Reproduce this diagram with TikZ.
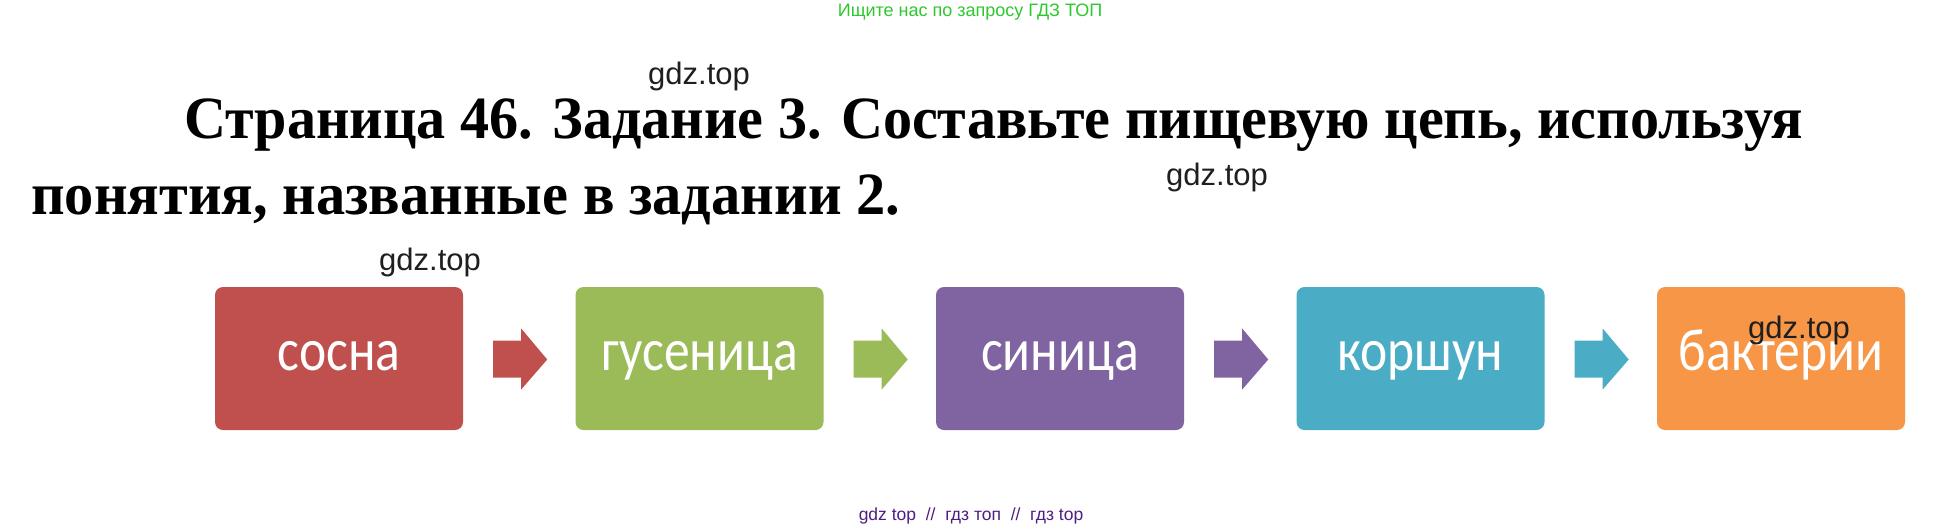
\documentclass[tikz,border=0pt]{standalone}
\usepackage{fontspec}
\setmainfont{Liberation Serif}
\newfontfamily\wmfont{Liberation Sans}
\newfontfamily\boxfont{Carlito}
\usetikzlibrary{calc}
\definecolor{cred}{HTML}{C0504D}
\definecolor{cgreen}{HTML}{9BBB59}
\definecolor{cpurple}{HTML}{8064A2}
\definecolor{cteal}{HTML}{4BACC6}
\definecolor{corange}{HTML}{F79646}
\definecolor{topgreen}{RGB}{45,200,45}
\definecolor{botpurple}{RGB}{80,30,130}
\tikzset{
  wm/.style={font=\wmfont\fontsize{31}{31}\selectfont, text=black!88, inner sep=0pt, anchor=base west},
  titleline/.style={font=\bfseries\fontsize{60}{60}\selectfont, inner sep=0pt, anchor=base west},
  chainbox/.style={fill=#1, rounded corners=8pt, minimum width=248pt, minimum height=143pt,
    inner sep=0pt, text=white, text height=23pt, text depth=0pt,
    font=\boxfont\fontsize{60}{60}\selectfont},
  blockarrow/.style={fill=#1, draw=none}
}
\newcommand{\sq}[1]{\scalebox{0.86}[1]{#1}}
\newcommand{\chainarrow}[3]{% from node, to node, colour
  \fill[blockarrow=#3]
    ($(#1.east)+(30,18)$) -- ($(#1.east)+(58,18)$) -- ($(#1.east)+(58,30)$) --
    ($(#1.east)+(84,-1)$) -- ($(#1.east)+(58,-31)$) -- ($(#1.east)+(58,-19)$) --
    ($(#1.east)+(30,-19)$) -- cycle;}
\begin{document}
\begin{tikzpicture}[x=1pt,y=1pt]
\useasboundingbox (0,0) rectangle (1942,-528);
\fill[white] (0,0) rectangle (1942,-528);

% top line
\node[font=\wmfont\fontsize{18}{18}\selectfont, text=topgreen, inner sep=0pt] (top) at (970,-12) {Ищите нас по запросу ГДЗ ТОП};

% title
\node[titleline] (t1) at (184,-138) {\resizebox{1619pt}{\height}{Страница 46. Задание 3. Составьте пищевую цепь, используя}};
\node[titleline] (t2) at (31,-214) {\resizebox{869pt}{\height}{понятия, названные в задании 2.}};

% boxes
\node[chainbox=cred]    (b1) at (339,-358.5)    {\sq{сосна}};
\node[chainbox=cgreen]  (b2) at (699.5,-358.5)  {\sq{гусеница}};
\node[chainbox=cpurple] (b3) at (1060,-358.5)   {\sq{синица}};
\node[chainbox=cteal]   (b4) at (1420.5,-358.5) {\sq{коршун}};
\node[chainbox=corange] (b5) at (1781,-358.5)   {\sq{бактерии}};

\chainarrow{b1}{b2}{cred}
\chainarrow{b2}{b3}{cgreen}
\chainarrow{b3}{b4}{cpurple}
\chainarrow{b4}{b5}{cteal}

% watermarks
\node[wm] (w1) at (648,-84) {gdz.top};
\node[wm] (w2) at (1166,-185) {gdz.top};
\node[wm] (w3) at (379,-270) {gdz.top};
\node[wm] (w4) at (1748,-338) {gdz.top};

% bottom line
\node[font=\wmfont\fontsize{17.5}{17.5}\selectfont, text=botpurple, inner sep=0pt, anchor=base] (bot) at (971,-520) {gdz top \ // \ гдз топ \ // \ гдз top};
\end{tikzpicture}
\end{document}
